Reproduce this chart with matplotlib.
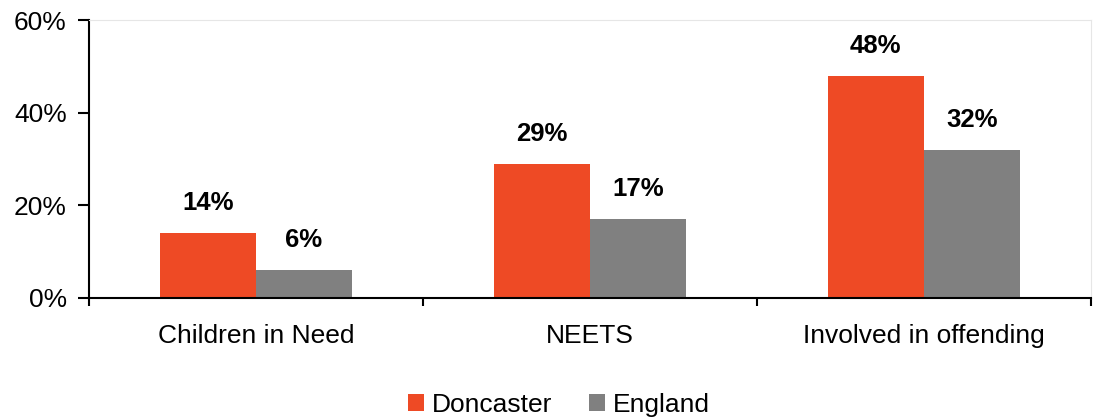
import numpy as np
import matplotlib.pyplot as plt
from matplotlib.ticker import FuncFormatter, FixedLocator

plt.rcParams['font.family'] = ['Liberation Sans', 'DejaVu Sans']

categories = ['Children in Need', 'NEETS', 'Involved in offending']
doncaster = [14, 29, 48]
england = [6, 17, 32]
series_names = ['Doncaster', 'England']
colors = ['#EE4A25', '#808080']

fig = plt.figure(figsize=(10.94, 4.19), dpi=100)
ax = fig.add_axes([0.0814, 0.2888, 0.9156, 0.6632])

x = np.arange(len(categories))
w = 0.2875
b1 = ax.bar(x - w / 2, doncaster, w, color=colors[0], label=series_names[0])
b2 = ax.bar(x + w / 2, england, w, color=colors[1], label=series_names[1])

for bars, vals in ((b1, doncaster), (b2, england)):
    for rect, v in zip(bars, vals):
        ax.annotate(f'{v}%', (rect.get_x() + rect.get_width() / 2, v),
                    xytext=(0, 13), textcoords='offset points',
                    ha='center', va='bottom', fontsize=18.5, fontweight='bold')

ax.set_xlim(-0.5, len(categories) - 0.5)
ax.set_ylim(0, 60)
ax.set_yticks([0, 20, 40, 60])
ax.yaxis.set_major_formatter(FuncFormatter(lambda v, p: f'{v:.0f}%'))
ax.set_xticks(x)
ax.set_xticklabels(categories)
ax.xaxis.set_minor_locator(FixedLocator(np.arange(-0.5, len(categories), 1.0)))
ax.tick_params(axis='x', which='major', length=0, pad=19, labelsize=19)
ax.tick_params(axis='x', which='minor', length=6, width=1.5, direction='out')
ax.tick_params(axis='y', length=8, width=1.5, labelsize=19, pad=8)

for s in ('top', 'right'):
    ax.spines[s].set_color('#e6e6e6')
    ax.spines[s].set_linewidth(0.8)
for s in ('left', 'bottom'):
    ax.spines[s].set_linewidth(1.5)

fig.legend(loc='center', bbox_to_anchor=(0.511, 0.033), ncol=2, frameon=False,
           fontsize=19, handlelength=0.6, handleheight=0.6, handletextpad=0.3,
           columnspacing=1.4)

fig.savefig('out.png', dpi=100)
